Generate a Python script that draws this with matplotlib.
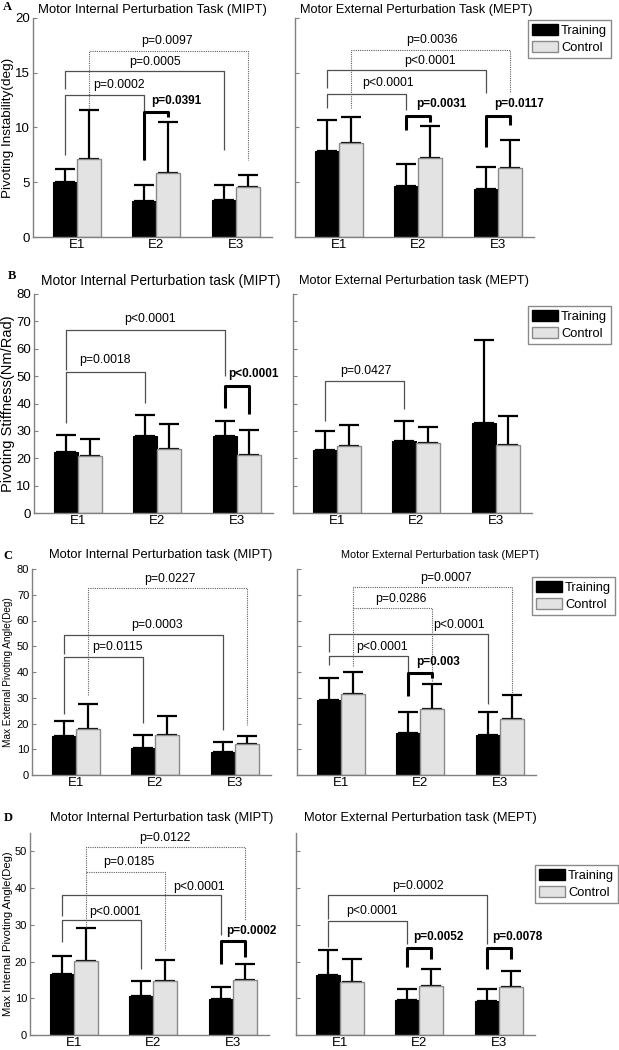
import numpy as np
import matplotlib
matplotlib.use("Agg")
import matplotlib.pyplot as plt
from matplotlib.patches import Patch

plt.rcParams['font.family'] = ['Liberation Sans', 'DejaVu Sans']

W_PX, H_PX = 619, 1050

# data
groups = ['E1', 'E2', 'E3']
series = ['Training', 'Control']

# A: pivoting instability (deg)
a_mipt_train, a_mipt_train_sd = [5.04, 3.27, 3.42], [1.13, 1.46, 1.37]
a_mipt_ctrl, a_mipt_ctrl_sd = [7.11, 5.80, 4.58], [4.49, 4.73, 1.07]
a_mept_train, a_mept_train_sd = [7.88, 4.64, 4.34], [2.81, 1.99, 2.01]
a_mept_ctrl, a_mept_ctrl_sd = [8.55, 7.18, 6.32], [2.38, 2.99, 2.53]

# B: pivoting stiffness (Nm/Rad)
b_mipt_train, b_mipt_train_sd = [22.4, 28.0, 28.3], [6.1, 7.9, 5.4]
b_mipt_ctrl, b_mipt_ctrl_sd = [20.7, 23.5, 21.1], [6.5, 9.1, 9.4]
b_mept_train, b_mept_train_sd = [23.1, 26.2, 32.8], [7.0, 7.5, 30.5]
b_mept_ctrl, b_mept_ctrl_sd = [24.4, 25.6, 25.0], [7.8, 5.9, 10.4]

# C: max external pivoting angle (Deg)
c_mipt_train, c_mipt_train_sd = [15.1, 10.4, 9.1], [5.8, 5.2, 3.9]
c_mipt_ctrl, c_mipt_ctrl_sd = [17.9, 15.6, 11.9], [9.8, 7.3, 3.4]
c_mept_train, c_mept_train_sd = [29.0, 16.4, 15.7], [8.8, 8.1, 8.8]
c_mept_ctrl, c_mept_ctrl_sd = [31.3, 25.7, 21.8], [8.8, 9.8, 9.2]

# D: max internal pivoting angle (Deg)
d_mipt_train, d_mipt_train_sd = [16.5, 10.7, 9.9], [5.0, 4.0, 3.2]
d_mipt_ctrl, d_mipt_ctrl_sd = [20.1, 14.7, 15.1], [9.0, 5.8, 4.2]
d_mept_train, d_mept_train_sd = [16.3, 9.5, 9.3], [6.8, 3.1, 3.3]
d_mept_ctrl, d_mept_ctrl_sd = [14.3, 13.4, 13.2], [6.5, 4.7, 4.2]

# significance brackets: (from, to, left leg bottom, top, right leg bottom, label, style, label x, label y)
# from/to = (group index, 'T' or 'C')
a_mipt_sig = [((0, 'T'), (1, 'T'), 7.5, 12.98, 7.0, 'p=0.0002', 'solid', 1.53, 13.9),
              ((0, 'T'), (2, 'T'), 13.5, 15.18, 7.94, 'p=0.0005', 'solid', 1.98, 16.0),
              ((0, 'C'), (2, 'C'), 11.76, 17.0, 7.02, 'p=0.0097', 'dotted', 2.13, 17.9),
              ((1, 'T'), (1, 'C'), 7.02, 11.45, 11.0, 'p=0.0391', 'bold', 1.94, 12.46)]
a_mept_sig = [((0, 'T'), (1, 'T'), 11.76, 13.07, 11.6, 'p<0.0001', 'solid', 1.62, 14.05),
              ((0, 'T'), (2, 'T'), 13.59, 15.27, 13.13, 'p<0.0001', 'solid', 2.15, 16.03),
              ((0, 'C'), (2, 'C'), 11.76, 17.1, 13.13, 'p=0.0036', 'dotted', 2.17, 17.95),
              ((1, 'T'), (1, 'C'), 9.77, 11.08, 10.53, 'p=0.0031', 'bold', 1.98, 12.15),
              ((2, 'T'), (2, 'C'), 8.24, 11.08, 10.23, 'p=0.0117', 'bold', 2.96, 12.15)]
b_mipt_sig = [((0, 'T'), (1, 'T'), 32.9, 51.4, 40.2, 'p=0.0018', 'solid', 1.34, 56.0),
              ((0, 'T'), (2, 'T'), 52.4, 66.7, 49.9, 'p<0.0001', 'solid', 1.91, 70.9),
              ((2, 'T'), (2, 'C'), 38.4, 46.5, 36.3, 'p<0.0001', 'bold', 2.89, 50.9)]
b_mept_sig = [((0, 'T'), (1, 'T'), 33.7, 48.1, 38.0, 'p=0.0427', 'solid', 1.36, 52.0)]
c_mipt_sig = [((0, 'T'), (1, 'T'), 23.8, 45.8, 20.3, 'p=0.0115', 'solid', 1.52, 49.7),
              ((0, 'T'), (2, 'T'), 47.1, 54.5, 17.3, 'p=0.0003', 'solid', 2.02, 58.4),
              ((0, 'C'), (2, 'C'), 30.9, 72.5, 19.5, 'p=0.0227', 'dotted', 2.19, 76.0)]
c_mept_sig = [((0, 'T'), (1, 'T'), 42.6, 46.2, 37.1, 'p<0.0001', 'solid', 1.52, 49.7),
              ((0, 'T'), (2, 'T'), 47.8, 54.7, 27.4, 'p<0.0001', 'solid', 2.49, 58.2),
              ((0, 'C'), (1, 'C'), 42.3, 64.8, 36.5, 'p=0.0286', 'dotted', 1.75, 68.3),
              ((0, 'C'), (2, 'C'), 64.8, 73.1, 31.9, 'p=0.0007', 'dotted', 2.33, 76.4),
              ((1, 'T'), (1, 'C'), 30.6, 39.7, 37.5, 'p=0.003', 'bold', 1.95, 43.9)]
d_mipt_sig = [((0, 'T'), (1, 'T'), 25.3, 31.2, 18.1, 'p<0.0001', 'solid', 1.52, 33.5),
              ((0, 'T'), (2, 'T'), 32.5, 38.0, 27.1, 'p<0.0001', 'solid', 2.58, 40.4),
              ((0, 'C'), (1, 'C'), 29.4, 44.3, 23.2, 'p=0.0185', 'dotted', 1.69, 47.0),
              ((0, 'C'), (2, 'C'), 44.3, 51.1, 31.2, 'p=0.0122', 'dotted', 2.14, 53.6),
              ((2, 'T'), (2, 'C'), 19.4, 25.6, 21.2, 'p=0.0002', 'bold', 2.92, 28.3)]
d_mept_sig = [((0, 'T'), (1, 'T'), 24.0, 31.0, 24.9, 'p<0.0001', 'solid', 1.40, 33.7),
              ((0, 'T'), (2, 'T'), 31.6, 38.2, 24.9, 'p=0.0002', 'solid', 1.99, 40.7),
              ((1, 'T'), (1, 'C'), 18.4, 23.7, 20.8, 'p=0.0052', 'bold', 1.93, 26.7),
              ((2, 'T'), (2, 'C'), 18.1, 23.7, 20.8, 'p=0.0078', 'bold', 2.92, 26.7)]

row_letters = ['A', 'B', 'C', 'D']
ylabels = ['Pivoting Instability(deg)', 'Pivoting Stiffness(Nm/Rad)',
           'Max External Pivoting Angle(Deg)', 'Max Internal Pivoting Angle(Deg)']
titles_left = ['Motor Internal Perturbation Task (MIPT)', 'Motor Internal Perturbation task (MIPT)',
               'Motor Internal Perturbation task (MIPT)', 'Motor Internal Perturbation task (MIPT)']
titles_right = ['Motor External Perturbation Task (MEPT)', 'Motor External Perturbation task (MEPT)',
                'Motor External Perturbation task (MEPT)', 'Motor External Perturbation task (MEPT)']
ymax = [20, 80, 80, 55]
yticks = [[0, 5, 10, 15, 20], list(range(0, 81, 10)), list(range(0, 81, 10)), list(range(0, 51, 10))]

panels = [
    [(a_mipt_train, a_mipt_train_sd, a_mipt_ctrl, a_mipt_ctrl_sd, a_mipt_sig),
     (a_mept_train, a_mept_train_sd, a_mept_ctrl, a_mept_ctrl_sd, a_mept_sig)],
    [(b_mipt_train, b_mipt_train_sd, b_mipt_ctrl, b_mipt_ctrl_sd, b_mipt_sig),
     (b_mept_train, b_mept_train_sd, b_mept_ctrl, b_mept_ctrl_sd, b_mept_sig)],
    [(c_mipt_train, c_mipt_train_sd, c_mipt_ctrl, c_mipt_ctrl_sd, c_mipt_sig),
     (c_mept_train, c_mept_train_sd, c_mept_ctrl, c_mept_ctrl_sd, c_mept_sig)],
    [(d_mipt_train, d_mipt_train_sd, d_mipt_ctrl, d_mipt_ctrl_sd, d_mipt_sig),
     (d_mept_train, d_mept_train_sd, d_mept_ctrl, d_mept_ctrl_sd, d_mept_sig)],
]

# layout (pixels)
row_top = [18, 294, 569, 833]
row_bot = [237, 513, 775, 1035]
left_x = [33, 34, 32, 30]
right_x = [295, 293, 297, 296]
ax_w = 238.5
title_y = [10, 281, 555, 818]
title_lx = [152, 161, 161, 162]
title_rx = [416, 414, 440, 420]
title_ls = [9.4, 9.9, 9.3, 9.3]
title_rs = [9.2, 9.2, 7.8, 9.3]
letter_xy = [(7, 7), (12, 276), (8, 556), (8, 818)]
ylab_size = [9.7, 10.5, 7.2, 8.1]
tick_size = [9.5, 9.5, 8, 8]
legend_xy = [(528, 20), (528, 306), (532, 577), (535, 865)]

GRAY_BAR = '#e3e3e3'
AX_COL = '#808080'
BW = 0.3
x = np.arange(1, 4)

fig = plt.figure(figsize=(W_PX / 100, H_PX / 100), dpi=100)


def fx(px):
    return px / W_PX


def fy(py):
    return 1 - py / H_PX


def bar_x(key):
    g, s = key
    return x[g] + (-BW / 2 if s == 'T' else BW / 2)


styles = {'solid': dict(color='#505050', lw=0.9, ls='-'),
          'dotted': dict(color='#606060', lw=0.8, ls=(0, (1, 1))),
          'bold': dict(color='black', lw=2.2, ls='-')}

for r in range(4):
    for c in range(2):
        tr, tr_sd, ct, ct_sd, sig = panels[r][c]
        lx = left_x[r] if c == 0 else right_x[r]
        ax = fig.add_axes([fx(lx), fy(row_bot[r]), fx(ax_w), (row_bot[r] - row_top[r]) / H_PX])
        ax.bar(x - BW / 2, tr, BW, color='black', edgecolor='black', lw=0.8, zorder=2)
        ax.bar(x + BW / 2, ct, BW, color=GRAY_BAR, edgecolor='#8a8a8a', lw=1.0, zorder=2)
        ax.errorbar(x - BW / 2, tr, yerr=[np.zeros(3), tr_sd], fmt='none', ecolor='black',
                    elinewidth=1.6, capsize=7, capthick=1.6, zorder=1)
        ax.errorbar(x + BW / 2, ct, yerr=[np.zeros(3), ct_sd], fmt='none', ecolor='black',
                    elinewidth=1.6, capsize=7, capthick=1.6, zorder=1)
        for k1, k2, y1, ytop, y2, lab, st, tx, ty in sig:
            x1, x2 = bar_x(k1), bar_x(k2)
            ax.plot([x1, x1, x2, x2], [y1, ytop, ytop, y2], **styles[st],
                    solid_capstyle='butt', zorder=3)
            if st == 'bold':
                ax.text(tx, ty, lab, ha='left', va='center', fontsize=8.5, fontweight='bold')
            else:
                ax.text(tx, ty, lab, ha='center', va='center', fontsize=8.8)
        ax.set_xlim(0.45, 3.45)
        ax.set_ylim(0, ymax[r])
        ax.set_yticks(yticks[r])
        ax.set_xticks(x)
        ax.set_xticklabels(groups, fontsize=9.5)
        ax.tick_params(axis='x', length=0, pad=1.5)
        ax.tick_params(axis='y', direction='in', length=3, color=AX_COL, labelsize=tick_size[r], pad=2)
        for s in ['top', 'right']:
            ax.spines[s].set_visible(False)
        for s in ['left', 'bottom']:
            ax.spines[s].set_color(AX_COL)
            ax.spines[s].set_linewidth(1.0)
        if c == 1:
            ax.tick_params(axis='y', labelleft=False)
    ymid = (row_top[r] + row_bot[r]) / 2
    fig.text(fx(8), fy(ymid), ylabels[r], rotation=90, ha='center', va='center', fontsize=ylab_size[r])
    fig.text(fx(title_lx[r]), fy(title_y[r]), titles_left[r], ha='center', va='center', fontsize=title_ls[r])
    fig.text(fx(title_rx[r]), fy(title_y[r]), titles_right[r], ha='center', va='center', fontsize=title_rs[r])
    fig.text(fx(letter_xy[r][0]), fy(letter_xy[r][1]), row_letters[r], ha='center', va='center',
             fontsize=9, fontweight='bold', family='Liberation Serif')
    handles = [Patch(facecolor='black', edgecolor='black', label=series[0]),
               Patch(facecolor=GRAY_BAR, edgecolor='#8a8a8a', label=series[1])]
    leg = fig.legend(handles=handles, loc='upper left', bbox_to_anchor=(fx(legend_xy[r][0]), fy(legend_xy[r][1])),
                     fontsize=9.3, frameon=True, fancybox=False, framealpha=1, borderaxespad=0,
                     handlelength=2.0, handleheight=0.95, handletextpad=0.25, labelspacing=0.3,
                     borderpad=0.3)
    leg.get_frame().set_edgecolor('#8a8a8a')
    leg.get_frame().set_linewidth(1.0)

fig.savefig('out.png', dpi=100)
